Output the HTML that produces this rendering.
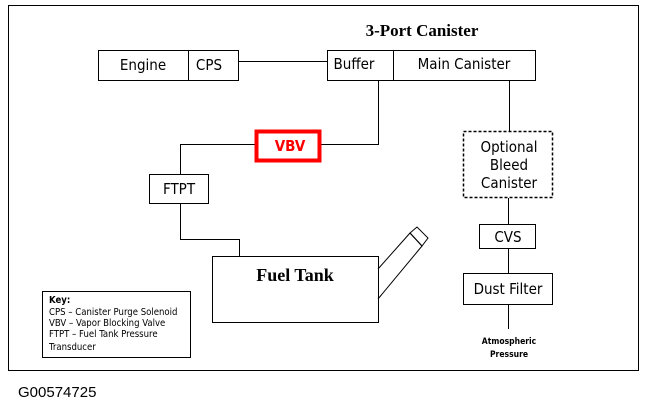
<!DOCTYPE html>
<html><head><meta charset="utf-8"><style>
html,body{margin:0;padding:0;background:#fff;}
svg{display:block;}
text{font-family:"DejaVu Sans Condensed","Liberation Sans",sans-serif;fill:#000;}
.s{font-family:"Liberation Serif",serif;font-weight:bold;}
</style></head><body>
<svg width="647" height="409" viewBox="0 0 647 409" xmlns="http://www.w3.org/2000/svg">
<g fill="none" stroke="#000" stroke-width="1">
<rect x="8.5" y="5.5" width="630" height="365"/>
<rect x="98.5" y="50.5" width="140" height="30"/>
<line x1="188.5" y1="50" x2="188.5" y2="80"/>
<line x1="238" y1="61.5" x2="327" y2="61.5"/>
<rect x="327.5" y="50.5" width="208" height="30"/>
<line x1="393.5" y1="50" x2="393.5" y2="80"/>
<polyline points="378.5,80 378.5,144.5 321,144.5"/>
<polyline points="255,144.5 180.5,144.5 180.5,174"/>
<rect x="149.5" y="174.5" width="59" height="29"/>
<polyline points="180.5,203 180.5,239.5 239.5,239.5 239.5,256"/>
<rect x="212.5" y="256.5" width="166" height="66"/>
<line x1="378" y1="269" x2="410" y2="233"/>
<line x1="378" y1="299" x2="422" y2="246"/>
<polygon points="410,233 417,227 428,238 422,246"/>
<line x1="410" y1="233" x2="422" y2="246"/>
<line x1="509.5" y1="80" x2="509.5" y2="131"/>
<rect x="463.5" y="131.5" width="89" height="66" stroke-dasharray="3,2" stroke-width="1.5"/>
<line x1="508.5" y1="198" x2="508.5" y2="224"/>
<rect x="479.5" y="224.5" width="56" height="24"/>
<line x1="508.5" y1="248" x2="508.5" y2="273"/>
<rect x="463.5" y="273.5" width="89" height="31"/>
<line x1="508.5" y1="304" x2="508.5" y2="329"/>
<rect x="42.5" y="291.5" width="148" height="66"/>
</g>
<rect x="256.5" y="131.5" width="63" height="29" fill="none" stroke="#f00" stroke-width="4"/>
<text x="422" y="36" class="s" font-size="17" text-anchor="middle">3-Port Canister</text>
<text x="143" y="70" font-size="15" text-anchor="middle">Engine</text>
<text x="209" y="70" font-size="15" text-anchor="middle">CPS</text>
<text x="354" y="69" font-size="15" text-anchor="middle">Buffer</text>
<text x="464" y="69" font-size="15" text-anchor="middle">Main Canister</text>
<text x="290" y="151" font-size="15" font-weight="bold" text-anchor="middle" style="fill:#f00">VBV</text>
<text x="179" y="194" font-size="15" text-anchor="middle">FTPT</text>
<text x="295" y="281" class="s" font-size="18" text-anchor="middle">Fuel Tank</text>
<text x="509" y="152" font-size="15" text-anchor="middle">Optional</text>
<text x="509" y="170" font-size="15" text-anchor="middle">Bleed</text>
<text x="509" y="188" font-size="15" text-anchor="middle">Canister</text>
<text x="508" y="242" font-size="15" text-anchor="middle">CVS</text>
<text x="508" y="294" font-size="15" text-anchor="middle">Dust Filter</text>
<text x="509" y="344" font-size="8.5" font-weight="bold" text-anchor="middle">Atmospheric</text>
<text x="509" y="357" font-size="8.5" font-weight="bold" text-anchor="middle">Pressure</text>
<g font-size="9.5">
<text x="49" y="303" font-weight="bold">Key:</text>
<text x="49" y="315">CPS – Canister Purge Solenoid</text>
<text x="49" y="326">VBV – Vapor Blocking Valve</text>
<text x="49" y="337">FTPT – Fuel Tank Pressure</text>
<text x="49" y="350">Transducer</text>
</g>
<text x="18" y="397" font-size="15" style="font-family:'Liberation Sans',sans-serif">G00574725</text>
</svg>
</body></html>
